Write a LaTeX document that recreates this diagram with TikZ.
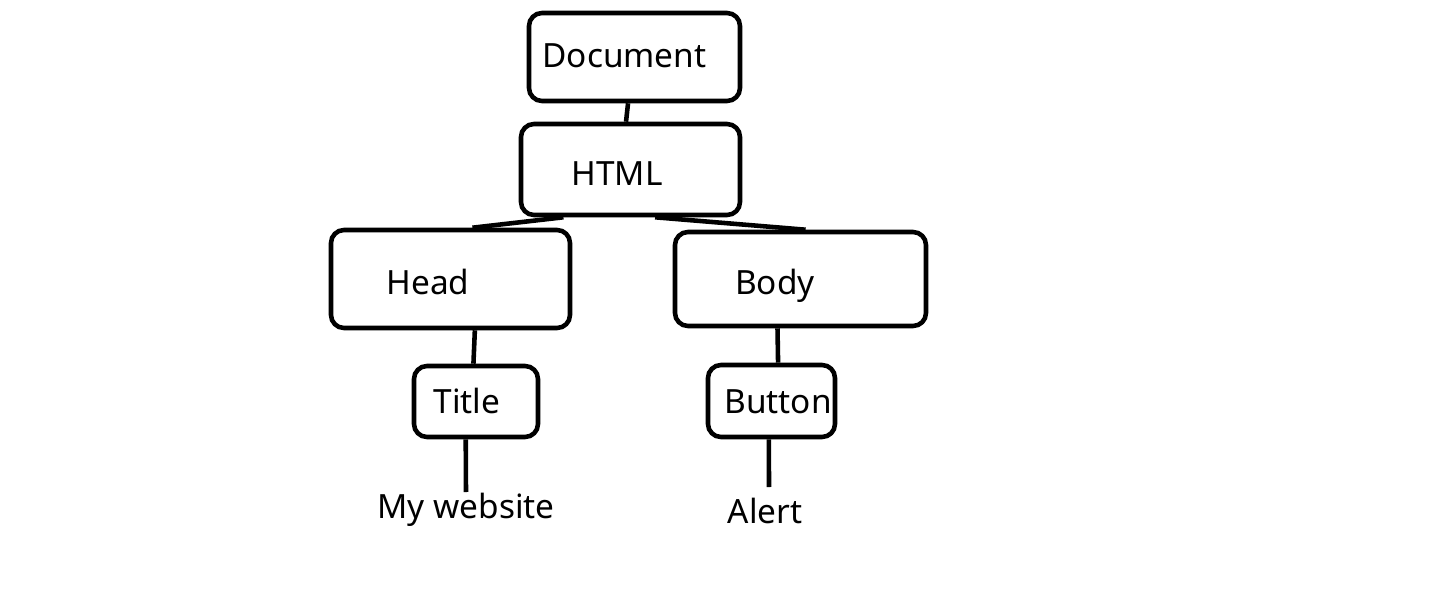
\documentclass[tikz,border=0pt]{standalone}
\usepackage{fontspec}
\setmainfont{Noto Sans}
\usetikzlibrary{calc}

\tikzset{
  box/.style={draw, line width=2.6pt, rounded corners=0.26cm, inner sep=0pt},
  word/.style={anchor=base, inner sep=0pt, font=\fontsize{19}{22}\selectfont},
  link/.style={line width=2.6pt}
}

\begin{document}
\begin{tikzpicture}[x=0.02cm, y=-0.02cm]
\useasboundingbox (0,0) rectangle (1447,598);

% boxes
\node[box, minimum width=211*0.02cm, minimum height=88*0.02cm] (doc) at (634.5,57) {};
\node[word] (doctxt) at (624.5,68) {Document};

\node[box, minimum width=219*0.02cm, minimum height=91*0.02cm] (html) at (630.5,169.5) {};
\node[word] (htmltxt) at (617,185) {HTML};

\node[box, minimum width=239*0.02cm, minimum height=98*0.02cm] (head) at (450.5,279) {};
\node[word] (headtxt) at (428,294) {Head};

\node[box, minimum width=251*0.02cm, minimum height=94*0.02cm] (body) at (800.5,279) {};
\node[word] (bodytxt) at (775,294) {Body};

\node[box, minimum width=124*0.02cm, minimum height=71*0.02cm] (title) at (476,401.5) {};
\node[word] (titletxt) at (467,413) {Title};

\node[box, minimum width=127*0.02cm, minimum height=72*0.02cm] (button) at (771.5,401) {};
\node[word] (buttontxt) at (778,413) {Button};

% leaves
\node[word] (site) at (466,518) {My website};
\node[word] (alert) at (765,523) {Alert};
\coordinate (sitetop) at (466,492);
\coordinate (alerttop) at (769,487);

% links
\draw[link] ($(doc.south west)!0.47!(doc.south east)$) -- ($(html.north west)!0.48!(html.north east)$);
\draw[link] ($(html.south west)!0.2!(html.south east)$) -- ($(head.north west)!0.59!(head.north east)$);
\draw[link] ($(html.south west)!0.61!(html.south east)$) -- ($(body.north west)!0.52!(body.north east)$);
\draw[link] ($(head.south west)!0.6!(head.south east)$) -- ($(title.north west)!0.48!(title.north east)$);
\draw[link] ($(body.south west)!0.41!(body.south east)$) -- ($(button.north west)!0.55!(button.north east)$);
\draw[link] ($(title.south west)!0.42!(title.south east)$) -- (sitetop);
\draw[link] ($(button.south west)!0.48!(button.south east)$) -- (alerttop);

\end{tikzpicture}
\end{document}
